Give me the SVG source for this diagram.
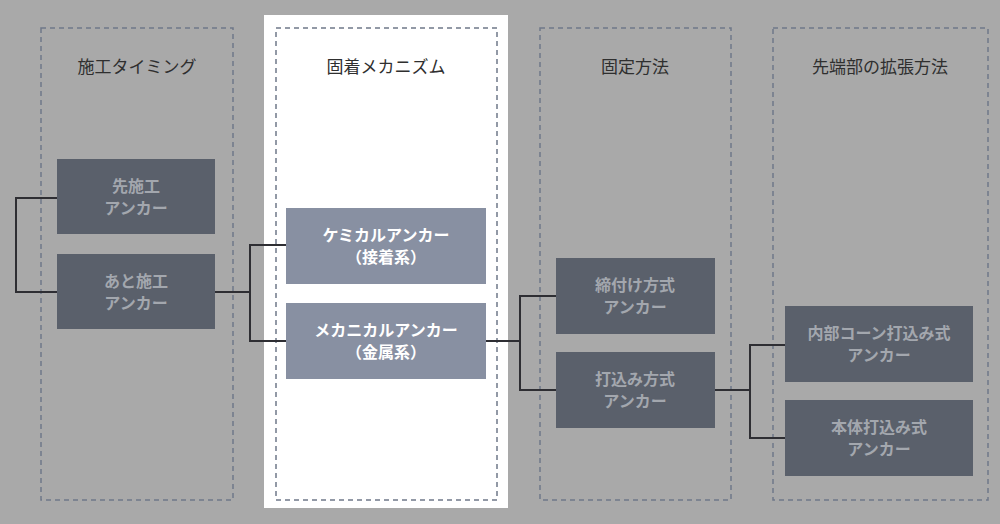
<svg xmlns="http://www.w3.org/2000/svg" width="1000" height="524" viewBox="0 0 1000 524">
<style>
.col{fill:none;stroke:#6f7889;stroke-width:1.5;stroke-dasharray:5 4}
.t{font-family:"Noto Sans CJK JP",sans-serif;font-size:17px;fill:#2f2f2f;text-anchor:middle}
.d rect{fill:#5a606b}
.d text{font-family:"Noto Sans CJK JP",sans-serif;font-size:16px;font-weight:bold;fill:#a3a7ae;text-anchor:middle}
.l rect{fill:#8890a2}
.l text{font-family:"Noto Sans CJK JP",sans-serif;font-size:16px;font-weight:bold;fill:#fff;text-anchor:middle}
.c{fill:none;stroke:#2e2e33;stroke-width:2}
</style>
<rect width="1000" height="524" fill="#a9a9a9"/>
<rect x="264" y="15" width="244" height="493" fill="#fff"/>
<g id="col1"><rect class="col" x="41" y="28" width="192" height="472"/><text class="t" x="137" y="73">施工タイミング</text></g>
<g id="col2"><rect class="col" x="276" y="28" width="221" height="472"/><text class="t" x="386" y="73">固着メカニズム</text></g>
<g id="col3"><rect class="col" x="540" y="28" width="191" height="472"/><text class="t" x="635" y="73">固定方法</text></g>
<g id="col4"><rect class="col" x="773" y="28" width="215" height="472"/><text class="t" x="880" y="73">先端部の拡張方法</text></g>
<g id="connectors">
<path class="c" d="M57,198H16V292H57M215,292H250M286,245H250V341H286M486,341H520M556,296H520V390H556M715,390H750M785,345H750V438H785"/>
</g>
<g id="n1" class="d"><rect x="57" y="159" width="158" height="75"/><text x="136" y="192">先施工</text><text x="136" y="214">アンカー</text></g>
<g id="n2" class="d"><rect x="57" y="254" width="158" height="75"/><text x="136" y="287">あと施工</text><text x="136" y="309">アンカー</text></g>
<g id="n3" class="l"><rect x="286" y="208" width="200" height="76"/><text x="386" y="241">ケミカルアンカー</text><text x="386" y="263">（接着系）</text></g>
<g id="n4" class="l"><rect x="286" y="303" width="200" height="76"/><text x="386" y="336">メカニカルアンカー</text><text x="386" y="358">（金属系）</text></g>
<g id="n5" class="d"><rect x="556" y="258" width="159" height="76"/><text x="635" y="291">締付け方式</text><text x="635" y="313">アンカー</text></g>
<g id="n6" class="d"><rect x="556" y="352" width="159" height="76"/><text x="635" y="385">打込み方式</text><text x="635" y="407">アンカー</text></g>
<g id="n7" class="d"><rect x="785" y="306" width="188" height="76"/><text x="879" y="339">内部コーン打込み式</text><text x="879" y="361">アンカー</text></g>
<g id="n8" class="d"><rect x="785" y="400" width="188" height="76"/><text x="879" y="433">本体打込み式</text><text x="879" y="455">アンカー</text></g>
</svg>
